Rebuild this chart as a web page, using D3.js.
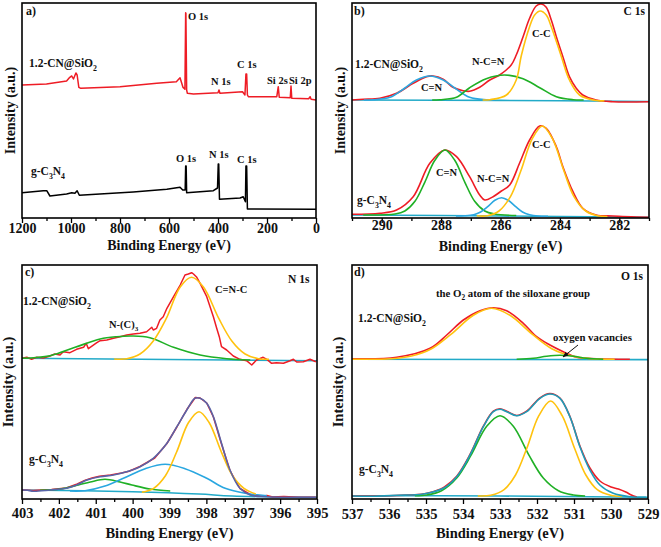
<!DOCTYPE html>
<html><head><meta charset="utf-8">
<script src="https://cdnjs.cloudflare.com/ajax/libs/d3/7.8.5/d3.min.js"></script>
<style>html,body{margin:0;padding:0;background:#fff;}svg{display:block;}</style>
</head><body>
<svg id="chart" width="661" height="547"></svg>
<script>
// ---------------- DATA ----------------
// Panel a: survey spectra  [Binding energy (eV), intensity (a.u.)]
const surveyCN = [[1200,133],[1100,134],[1018,137],[1005,140.7],[997,142],[990,139],[980,145],[975,143],[968,130.7],[960,129.7],[800,131.3],[650,134.7],[570,136.3],[555,140.3],[548,134.7],[543,130.7],[538,129.7],[535,128.7],[532,205.3],[531,204.7],[528,128],[525,124.7],[500,124],[400,125.3],[396,128],[392,124.7],[300,126.3],[290,123],[286,144],[283,144],[280,123],[276,121.3],[160,121.3],[154,131.3],[150,120.7],[105,120.3],[102,132],[99,119.7],[30,119.3],[24,121.3],[20,118.7],[0,118]];
const surveyGCN = [[1200,25.3],[1113,27.3],[1099,27.3],[1086,22],[1018,24],[997,25.3],[984,24.7],[975,27.3],[966,22.7],[882,24],[746,26],[609,28.7],[555,30.7],[544,28],[534,28],[532,52],[530,52],[528,25.3],[419,27.3],[402,30],[399,54],[397,54],[394,18.7],[310,20],[297,21.3],[288,16.3],[286,52],[283,52],[280,9],[276,9],[0,8.7]];
const surveyTicks = [1200,1000,800,600,400,200,0];
const surveyMinor = [1100,900,700,500,300,100];

// Panel b: C 1s
const c1sCN_data = [[291,118],[290.62,118.7],[290.06,119.7],[289.5,124.7],[288.94,134.7],[288.49,141.3],[288.27,142],[287.93,138.7],[287.6,130.7],[287.26,127.3],[287.04,126.7],[286.7,130.7],[286.36,138],[286.03,143],[285.64,153],[285.47,163],[285.24,181.3],[285.02,199.7],[284.8,212],[284.63,214],[284.46,210.7],[284.29,198],[284.12,181.3],[283.9,161.3],[283.68,141.3],[283.45,129.7],[283.23,123],[282.78,118],[282.22,116.3],[281.02,116.3]];
const c1sCN_base = [[291,118],[286,117.6],[281,116.5]];
const c1sCN_CeqN = [[290.6,118],[290.28,118.3],[289.72,120.7],[289.22,130],[288.83,138],[288.38,142],[287.93,138],[287.54,130],[287.04,120.7],[286.48,118.2],[286.2,118]];
const c1sCN_NCN = [[288.3,118],[288.04,118.3],[287.48,120.7],[287.04,130.3],[286.48,139.3],[285.86,143],[285.24,139.3],[284.68,130.3],[284.12,121.3],[283.56,118.3],[283.2,118]];
const c1sCN_CC = [[286.6,118],[286.36,118.3],[285.8,123],[285.47,138],[285.3,162.3],[285.02,191.3],[284.85,203],[284.66,207],[284.46,203],[284.29,191.3],[283.96,162.3],[283.68,138],[283.34,123],[282.78,117.5],[282.5,117.2]];
const c1sG_data = [[291,3.7],[290.06,4.7],[289.5,8],[288.94,21.3],[288.38,54.7],[287.87,68],[287.48,61.3],[287.04,41.3],[286.7,23],[286.53,18],[286.25,21.3],[285.97,27],[285.69,33],[285.36,54.7],[285.02,78],[284.68,92],[284.46,89.7],[284.12,71.3],[283.9,51.3],[283.56,26.3],[283.23,9.7],[282.78,3],[282.22,2],[281.02,0.7]];
const c1sG_base = [[291,3],[286,2],[281,0.7]];
const c1sG_CeqN = [[290.62,3],[289.55,4],[289.22,7],[288.88,16.7],[288.55,35.7],[288.21,57.7],[287.87,68],[287.54,57.7],[287.2,35.7],[286.87,16.7],[286.53,7],[286.2,4],[285.47,2.5]];
const c1sG_NCN = [[287.5,2],[287.2,2.2],[286.9,3.3],[286.67,6],[286.43,11.3],[286.19,17.7],[285.96,20.3],[285.74,17.7],[285.49,11.3],[285.26,6],[285.02,3.3],[284.73,2],[284.4,1.8]];
const c1sG_CC = [[286.8,2.2],[286.44,2.3],[286.05,7],[285.66,21.7],[285.32,46.7],[284.93,79.3],[284.59,92],[284.25,79.3],[283.86,46.7],[283.53,21.7],[283.13,7],[282.74,2.3],[282.4,1.5]];
const c1sTicks = [290,288,286,284,282];
const c1sMinor = [291,289,287,285,283,281];

// Panel c: N 1s
const n1sCN_data = [[403,140.7],[402.87,141.7],[402.74,139.7],[402.6,141.7],[402.42,141],[402.24,143],[402.11,145],[401.97,144],[401.88,147.3],[401.7,146.3],[401.52,149.7],[401.33,151.7],[401.26,155.7],[401.2,150.3],[400.97,156.3],[400.88,158.3],[400.7,159],[400.52,160.7],[400.34,162.3],[400.16,164],[399.98,165],[399.8,165.7],[399.62,167.3],[399.48,171.7],[399.44,169],[399.35,170.7],[399.26,179],[399.17,182.3],[399.07,190.7],[398.89,202.3],[398.71,214],[398.58,224],[398.49,225],[398.4,226.3],[398.35,225],[398.26,221.7],[398.17,215.7],[397.99,202.3],[397.81,182.3],[397.72,170.7],[397.65,162.3],[397.59,152.3],[397.45,149],[397.27,143],[397.09,139.7],[396.91,138.3],[396.77,134],[396.64,139],[396.46,141.7],[396.36,139.7],[396.23,135.7],[396.1,136.3],[395.91,135.7],[395.73,138.3],[395.64,139.7],[395.55,137],[395.37,137.3],[395.19,139.7],[395.03,137.3]];
const n1sCN_base = [[403,140.7],[399,139.5],[395,138.3]];
const n1sCN_NC3 = [[403,140.7],[402.24,143.3],[401.56,151.7],[400.88,160],[400.43,162.3],[400.02,163],[399.53,161.3],[398.89,151.7],[398.17,144],[397.45,140.3],[396.81,139]];
const n1sCN_CNC = [[400.5,140],[400.16,140.3],[399.8,145],[399.44,158],[399.09,180.3],[398.71,212],[398.4,221.7],[398.08,212],[397.66,180.3],[397.31,158],[396.95,145],[396.59,140.3],[396.3,139.8]];
const n1sG_data = [[403,9],[402.7,8.5],[402.2,9.5],[401.8,11],[401.5,15],[401.3,18.5],[401.1,21],[400.9,22.8],[400.6,24],[400.3,26],[400.1,27.8],[399.8,32.5],[399.4,41],[399.07,55.5],[398.8,72],[398.53,89.5],[398.3,101.5],[398.17,101],[397.99,96],[397.81,82],[397.59,55],[397.36,28.5],[397.09,10.5],[396.81,4.5],[396.5,2.8],[396.36,3.5],[396.2,2],[395.9,2.5],[395.5,1.7],[395.03,1.7]];
const n1sG_base = [[403,9],[400,7.3],[398.2,5],[397.3,3],[395,1.7]];
const n1sG_p1 = [[402.51,8.7],[401.97,10],[401.47,14],[401.15,17],[400.75,19.7],[400.34,17],[400.02,14],[399.53,10],[398.98,8]];
const n1sG_p2 = [[401.7,8],[401.29,8.3],[400.75,13],[400.25,20.7],[399.66,30.3],[399.12,34.7],[398.58,30.3],[397.99,20.7],[397.49,10.7],[396.95,5.7],[396.36,3.3]];
const n1sG_p3 = [[399.75,6.7],[399.43,10.7],[399.11,23.3],[398.81,46.7],[398.48,76.7],[398.2,87.3],[397.93,76.7],[397.59,46.7],[397.29,23.3],[396.98,10.7],[396.66,5]];
const n1sG_fit = [[403,9],[402.85,8.8],[402.69,7.8],[402.24,9],[401.79,10.7],[401.52,14],[401.24,19],[400.88,22.3],[400.52,24],[400.16,27.3],[399.8,32.3],[399.44,40.7],[399.07,55.7],[398.8,72.3],[398.53,89],[398.31,100.7],[398.17,100.7],[397.99,95.7],[397.81,82.3],[397.59,55.7],[397.36,29],[397.09,10.7],[396.81,4],[396.36,2.3],[395.03,1.7]];
const n1sTicks = [403,402,401,400,399,398,397,396,395];
const n1sMinor = [402.5,401.5,400.5,399.5,398.5,397.5,396.5,395.5];

// Panel d: O 1s
const o1sCN_data = [[537,140.3],[535.79,141.7],[534.89,150.7],[534.44,164],[533.99,179],[533.54,188.3],[533.18,191.3],[532.82,188.3],[532.37,175.7],[532.01,162.3],[531.65,154],[531.29,147.3],[530.93,141.7],[530.39,140.3],[529.49,139.7]];
const o1sCN_base = [[537,139.7],[529,139.4]];
const o1sCN_silox = [[537,139.8],[535.93,140.3],[535.39,143],[534.85,150.3],[534.31,165.2],[533.72,183.7],[533.23,190.7],[532.73,183.7],[532.14,165.2],[531.6,150.3],[531.06,143],[530.52,140.3],[529.9,139.7]];
const o1sCN_vac = [[532.55,139.7],[532.1,140.7],[531.74,142.7],[531.38,143.7],[531.02,142.7],[530.66,140.7],[530.21,139.7]];
const o1sG_data = [[537,3],[536,3.3],[535,5.5],[534.6,10],[534.5,12],[534.17,22.8],[533.81,44.5],[533.45,72.8],[533.18,87.8],[533,90.2],[532.82,87.8],[532.55,83.5],[532.28,87.8],[531.92,101.2],[531.65,105.5],[531.38,101],[531.11,82.5],[530.84,53],[530.57,31],[530.3,18],[530,12],[529.8,10],[529.6,7],[529.45,4],[529.3,2]];
const o1sG_base = [[537,3.3],[533,3],[529,1.7]];
const o1sG_p1 = [[535.3,3.3],[534.98,4],[534.58,8.3],[534.17,21],[533.79,43.3],[533.36,72.7],[533,83.3],[532.64,72.7],[532.21,43.3],[531.83,21],[531.42,8.3],[531.02,4],[530.7,3]];
const o1sG_p2 = [[533.6,3],[533.25,3.7],[532.89,9.3],[532.58,24],[532.28,50.3],[531.95,83.3],[531.63,98],[531.32,83.3],[530.98,50.3],[530.68,24],[530.37,9.3],[530.01,3.7],[529.7,2.5]];
const o1sG_fit = [[537,3],[536.51,2.7],[535.79,3.7],[535.07,5],[534.53,10.7],[534.17,22.3],[533.81,44],[533.45,72.3],[533.18,87.3],[533,89.7],[532.82,87.3],[532.55,83.3],[532.28,87.3],[531.92,100.7],[531.65,105],[531.38,100.7],[531.11,82.3],[530.84,52.3],[530.57,29],[530.3,14],[529.94,5.7],[529.49,2.3],[529.05,1.7]];
const o1sTicks = [537,536,535,534,533,532,531,530,529];
const o1sMinor = [536.5,535.5,534.5,533.5,532.5,531.5,530.5,529.5];

// ---------------- STYLE ----------------
const FONT = "'Liberation Serif','Times New Roman',serif";
const RED = "#ee1c25", GREEN = "#1fb025", YELLOW = "#ffc20e", BLUE = "#2aa7e0",
      BASE = "#22aac8", NAVY = "#5864a8", TEAL = "#1d9db9";

const svg = d3.select("#chart");

function richText(g, x, y, str, fs, anchor) {
  const t = g.append("text").attr("x", x).attr("y", y)
    .attr("font-family", FONT).attr("font-weight", "bold")
    .attr("font-size", fs).attr("fill", "#111")
    .attr("text-anchor", anchor || "start");
  const parts = str.split(/(_\w)/).filter(s => s.length);
  let inSub = false;
  parts.forEach(p => {
    if (p[0] === "_") {
      t.append("tspan").attr("dy", fs * 0.32).attr("font-size", fs * 0.68).text(p.slice(1));
      inSub = true;
    } else {
      const s = t.append("tspan").text(p);
      if (inSub) { s.attr("dy", -fs * 0.32); inSub = false; }
    }
  });
  return t;
}

function panel(cfg) {
  const g = svg.append("g");
  const x = d3.scaleLinear().domain(cfg.domain).range([cfg.x0, cfg.x1]);
  const y = d3.scaleLinear().domain([0, cfg.ymax]).range([cfg.y1, cfg.y0]);

  const clipId = "clip" + cfg.id;
  svg.append("clipPath").attr("id", clipId).append("rect")
    .attr("x", cfg.x0).attr("y", cfg.y0).attr("width", cfg.x1 - cfg.x0).attr("height", cfg.y1 - cfg.y0);
  const plot = g.append("g").attr("clip-path", `url(#${clipId})`);

  cfg.curves.forEach(c => {
    const line = d3.line().x(d => x(d[0])).y(d => y(d[1]))
      .curve(c.smooth ? d3.curveCatmullRom.alpha(0.5) : d3.curveLinear);
    plot.append("path").datum(c.data).attr("d", line)
      .attr("fill", "none").attr("stroke", c.color)
      .attr("stroke-width", c.w || 1.6).attr("stroke-linejoin", "round");
  });

  // minor ticks
  const minorAxis = d3.axisBottom(x).tickValues(cfg.minor).tickSize(3).tickFormat("");
  const gm = g.append("g").attr("transform", `translate(0,${cfg.y1})`).call(minorAxis);
  gm.select(".domain").remove();
  gm.selectAll("line").attr("stroke", "#000").attr("stroke-width", 1.3);

  const majorAxis = d3.axisBottom(x).tickValues(cfg.major).tickSize(5).tickSizeOuter(0)
    .tickPadding(2).tickFormat(d3.format("d"));
  const ga = g.append("g").attr("transform", `translate(0,${cfg.y1})`).call(majorAxis);
  ga.select(".domain").remove();
  ga.selectAll("line").attr("stroke", "#000").attr("stroke-width", 1.3);
  ga.selectAll("text").attr("font-family", FONT).attr("font-weight", "bold")
    .attr("font-size", cfg.tickFs).attr("fill", "#111")
    .attr("dy", null).attr("y", cfg.tickBase);

  // frame
  g.append("rect").attr("x", cfg.x0).attr("y", cfg.y0)
    .attr("width", cfg.x1 - cfg.x0).attr("height", cfg.y1 - cfg.y0)
    .attr("fill", "none").attr("stroke", "#000").attr("stroke-width", 1.6);

  // axis titles
  g.append("text").attr("x", (cfg.x0 + cfg.x1) / 2).attr("y", cfg.titleBase)
    .attr("text-anchor", "middle").attr("font-family", FONT).attr("font-weight", "bold")
    .attr("font-size", cfg.titleFs).attr("fill", "#111").text("Binding Energy (eV)");
  g.append("text")
    .attr("transform", `translate(${cfg.yTitleX},${(cfg.y0 + cfg.y1) / 2}) rotate(-90)`)
    .attr("text-anchor", "middle").attr("font-family", FONT).attr("font-weight", "bold")
    .attr("font-size", cfg.titleFs).attr("fill", "#111").text("Intensity (a.u.)");

  cfg.texts.forEach(t => richText(g, t[0], t[1], t[2], t[3], t[4]));
  return { g, x, y };
}

// Panel a
panel({
  id: "a", x0: 22, x1: 316, y0: 3, y1: 218, domain: [1200, 0], ymax: 215,
  major: surveyTicks, minor: surveyMinor, tickFs: 14, tickBase: 15, titleBase: 250, titleFs: 14, yTitleX: 15,
  curves: [
    { data: surveyCN, color: RED, w: 1.5 },
    { data: surveyGCN, color: "#000", w: 1.5 }
  ],
  texts: [
    [26, 15, "a)", 12], [188, 19.5, "O 1s", 10.5], [29, 67, "1.2-CN@SiO_2", 11.5],
    [211, 85, "N 1s", 10.5], [237, 68, "C 1s", 10.5], [267, 84, "Si 2s", 10.5], [289, 84, "Si 2p", 10.5],
    [176, 162, "O 1s", 10.5], [209, 158, "N 1s", 10.5], [237, 163, "C 1s", 10.5], [31, 175, "g-C_3N_4", 11.5]
  ]
});

// Panel b
panel({
  id: "b", x0: 352, x1: 649, y0: 3, y1: 218, domain: [291, 281], ymax: 215,
  major: c1sTicks, minor: c1sMinor, tickFs: 14, tickBase: 12, titleBase: 250.5, titleFs: 14, yTitleX: 345,
  curves: [
    { data: c1sCN_base, color: BASE, smooth: true },
    { data: c1sCN_data, color: RED, smooth: true },
    { data: c1sCN_CeqN, color: BLUE, smooth: true },
    { data: c1sCN_NCN, color: GREEN, smooth: true },
    { data: c1sCN_CC, color: YELLOW, smooth: true },
    { data: c1sG_base, color: BASE, smooth: true },
    { data: c1sG_data, color: RED, smooth: true },
    { data: c1sG_CeqN, color: GREEN, smooth: true },
    { data: c1sG_NCN, color: BLUE, smooth: true },
    { data: c1sG_CC, color: YELLOW, smooth: true }
  ],
  texts: [
    [354, 15, "b)", 12], [645, 15, "C 1s", 11.5, "end"], [532, 37, "C-C", 10.5],
    [355, 68, "1.2-CN@SiO_2", 11.5], [472, 65, "N-C=N", 10.5], [421, 91, "C=N", 10.5],
    [532, 148, "C-C", 10.5], [436, 176, "C=N", 10.5], [477, 182, "N-C=N", 10.5], [357, 204, "g-C_3N_4", 11.5]
  ]
});

// Panel c
panel({
  id: "c", x0: 22, x1: 317, y0: 265, y1: 499, domain: [403, 395], ymax: 234,
  major: n1sTicks, minor: n1sMinor, tickFs: 14.5, tickBase: 19, titleBase: 538, titleFs: 14.5, yTitleX: 13,
  curves: [
    { data: n1sCN_base, color: BASE, smooth: true },
    { data: n1sCN_data, color: RED, w: 1.5 },
    { data: n1sCN_NC3, color: GREEN, smooth: true },
    { data: n1sCN_CNC, color: YELLOW, smooth: true },
    { data: n1sG_base, color: BASE, smooth: true },
    { data: n1sG_data, color: RED, w: 1.5 },
    { data: n1sG_p1, color: GREEN, smooth: true },
    { data: n1sG_p2, color: BLUE, smooth: true },
    { data: n1sG_p3, color: YELLOW, smooth: true },
    { data: n1sG_fit, color: NAVY, smooth: true }
  ],
  texts: [
    [25, 276, "c)", 12], [288, 283, "N 1s", 11.5], [215, 293, "C=N-C", 10.5],
    [23, 305, "1.2-CN@SiO_2", 11.5], [109, 328, "N-(C)_3", 10.5], [29, 463, "g-C_3N_4", 11.5]
  ]
});

// Panel d
const pd = panel({
  id: "d", x0: 352, x1: 648, y0: 265, y1: 499, domain: [537, 529], ymax: 234,
  major: o1sTicks, minor: o1sMinor, tickFs: 14.5, tickBase: 20, titleBase: 537.5, titleFs: 14.5, yTitleX: 343,
  curves: [
    { data: o1sCN_base, color: BASE },
    { data: o1sCN_data, color: RED, smooth: true },
    { data: o1sCN_silox, color: YELLOW, smooth: true },
    { data: o1sCN_vac, color: GREEN, smooth: true },
    { data: o1sG_base, color: BASE, smooth: true },
    { data: o1sG_data, color: RED, smooth: true },
    { data: o1sG_p1, color: GREEN, smooth: true },
    { data: o1sG_p2, color: YELLOW, smooth: true },
    { data: o1sG_fit, color: TEAL, smooth: true }
  ],
  texts: [
    [354, 276, "d)", 12], [643, 280, "O 1s", 11.5, "end"],
    [436, 297, "the O_2 atom of the siloxane group", 10.8],
    [358, 322, "1.2-CN@SiO_2", 11.5], [553, 341, "oxygen vacancies", 10.8], [359, 473, "g-C_3N_4", 11.5]
  ]
});

// arrow for oxygen vacancies
svg.append("defs").append("marker").attr("id", "arr").attr("viewBox", "0 0 10 10")
  .attr("refX", 9).attr("refY", 5).attr("markerWidth", 6).attr("markerHeight", 6)
  .attr("orient", "auto-start-reverse")
  .append("path").attr("d", "M0,1 L10,5 L0,9 Z").attr("fill", "#111");
pd.g.append("line").attr("x1", 578).attr("y1", 345).attr("x2", 563).attr("y2", 357)
  .attr("stroke", "#111").attr("stroke-width", 1).attr("marker-end", "url(#arr)");
</script>
</body></html>
